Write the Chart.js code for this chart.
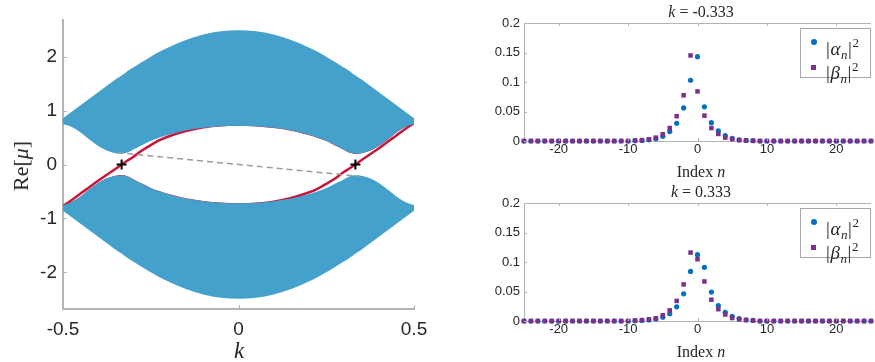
<!DOCTYPE html>
<html>
<head>
<meta charset="utf-8">
<script src="https://cdn.jsdelivr.net/npm/chart.js@4.4.1/dist/chart.umd.min.js"></script>
<style>
  html, body { margin: 0; padding: 0; background: #fff; }
  body { width: 875px; height: 362px; position: relative; overflow: hidden; }
  canvas { position: absolute; }
  .lbl { position: absolute; color: #262626; white-space: nowrap; transform: translate(-50%, -50%);
         font-family: "Liberation Serif", "Times New Roman", serif; }
  .legend { position: absolute; left: 800px; width: 71px; height: 50px; border: 1px solid #a8a8a8;
            background: #fff; box-sizing: border-box; }
  .legend .mk { position: absolute; }
  .legend .txt { position: absolute; left: 25px; font-family: "Liberation Serif", "Times New Roman", serif;
                 font-size: 19px; color: #262626; white-space: nowrap; line-height: 19px; letter-spacing: 0.6px; }
  .legend sub, .legend sup { font-size: 13px; }
  .legend sub { vertical-align: -4px; }
  .legend sup { vertical-align: 8px; }
</style>
</head>
<body>
<canvas id="bands" width="440" height="362" style="left:0;top:0"></canvas>
<canvas id="profTop" width="395" height="180" style="left:480px;top:0"></canvas>
<canvas id="profBottom" width="395" height="182" style="left:480px;top:180px"></canvas>

<div class="lbl" style="left:21px;top:166px;font-size:22px;transform:translate(-50%,-50%) rotate(-90deg)">Re[<i>μ</i>]</div>
<div class="lbl" style="left:239px;top:351px;font-size:23px"><i>k</i></div>

<div class="lbl" style="left:701px;top:12px;font-size:16px"><i>k</i> = -0.333</div>
<div class="lbl" style="left:701px;top:172px;font-size:16px">Index <i>n</i></div>
<div class="lbl" style="left:701px;top:192px;font-size:16px"><i>k</i> = 0.333</div>
<div class="lbl" style="left:701px;top:352px;font-size:16px">Index <i>n</i></div>

<div class="legend" style="top:28px">
  <span class="mk" style="left:10px;top:10px;width:6px;height:6px;border-radius:3px;background:#0072BD"></span>
  <span class="txt" style="top:4px">|<i>α</i><sub><i>n</i></sub>|<sup>2</sup></span>
  <span class="mk" style="left:10px;top:36px;width:5px;height:5px;background:#7E2F8E"></span>
  <span class="txt" style="top:28px">|<i>β</i><sub><i>n</i></sub>|<sup>2</sup></span>
</div>
<div class="legend" style="top:208px">
  <span class="mk" style="left:10px;top:10px;width:6px;height:6px;border-radius:3px;background:#0072BD"></span>
  <span class="txt" style="top:4px">|<i>α</i><sub><i>n</i></sub>|<sup>2</sup></span>
  <span class="mk" style="left:10px;top:36px;width:5px;height:5px;background:#7E2F8E"></span>
  <span class="txt" style="top:28px">|<i>β</i><sub><i>n</i></sub>|<sup>2</sup></span>
</div>

<script>
// band structure (left panel)
const kValues = [-0.5, -0.475, -0.45, -0.425, -0.4, -0.375, -0.35, -0.333, -0.317, -0.3, -0.275, -0.25, -0.225, -0.2, -0.15, -0.1, -0.05, 0,
                 0.05, 0.1, 0.15, 0.2, 0.225, 0.25, 0.275, 0.3, 0.317, 0.333, 0.35, 0.375, 0.4, 0.425, 0.45, 0.475, 0.5];
const upperTop = [0.86, 0.98, 1.10, 1.22, 1.34, 1.46, 1.58, 1.65, 1.73, 1.80, 1.90, 2.00, 2.09, 2.17, 2.31, 2.41, 2.47, 2.49,
                  2.47, 2.41, 2.31, 2.17, 2.09, 2.00, 1.90, 1.80, 1.73, 1.65, 1.58, 1.46, 1.34, 1.22, 1.10, 0.98, 0.86];
const upperBottom = [0.77, 0.72, 0.62, 0.49, 0.37, 0.28, 0.23, 0.22, 0.24, 0.30, 0.38, 0.46, 0.52, 0.57, 0.65, 0.70, 0.73, 0.74,
                     0.73, 0.70, 0.65, 0.57, 0.52, 0.46, 0.38, 0.30, 0.24, 0.22, 0.23, 0.28, 0.37, 0.49, 0.62, 0.72, 0.77];
const lowerTop = [-0.77, -0.72, -0.62, -0.49, -0.37, -0.28, -0.23, -0.22, -0.24, -0.30, -0.38, -0.46, -0.52, -0.57, -0.65, -0.70, -0.73, -0.74,
                  -0.73, -0.70, -0.65, -0.57, -0.52, -0.46, -0.38, -0.30, -0.24, -0.22, -0.23, -0.28, -0.37, -0.49, -0.62, -0.72, -0.77];
const lowerBottom = [-0.86, -0.98, -1.10, -1.22, -1.34, -1.46, -1.58, -1.65, -1.73, -1.80, -1.90, -2.00, -2.09, -2.17, -2.31, -2.41, -2.47, -2.49,
                     -2.47, -2.41, -2.31, -2.17, -2.09, -2.00, -1.90, -1.80, -1.73, -1.65, -1.58, -1.46, -1.34, -1.22, -1.10, -0.98, -0.86];
const edgeA = [-0.77, -0.66, -0.54, -0.42, -0.30, -0.19, -0.08, 0, 0.07, 0.14, 0.26, 0.36, 0.45, 0.52, 0.62, 0.69, 0.73, 0.74,
               0.73, 0.70, 0.65, 0.57, 0.52, 0.46, 0.38, 0.30, 0.24, 0.22, 0.23, 0.28, 0.37, 0.49, 0.62, 0.72, 0.77];
const edgeB = [-0.77, -0.72, -0.62, -0.49, -0.37, -0.28, -0.23, -0.22, -0.24, -0.30, -0.38, -0.46, -0.52, -0.57, -0.65, -0.70, -0.73, -0.74,
               -0.73, -0.69, -0.62, -0.52, -0.45, -0.36, -0.26, -0.14, -0.07, 0, 0.08, 0.19, 0.30, 0.42, 0.54, 0.66, 0.77];
const dashK = [-0.345, 0.345];
const dashMu = [0.22, -0.22];
const crossK = [-0.333, 0.333];
const crossMu = [0, 0];
const kTicks = [-0.5, 0, 0.5];
const muTicks = [-2, -1, 0, 1, 2];

// mode profiles (right panels)
const nIndex = [-25, -24, -23, -22, -21, -20, -19, -18, -17, -16, -15, -14, -13, -12, -11, -10, -9, -8, -7, -6, -5, -4, -3, -2, -1,
                0, 1, 2, 3, 4, 5, 6, 7, 8, 9, 10, 11, 12, 13, 14, 15, 16, 17, 18, 19, 20, 21, 22, 23, 24, 25];
const alphaTop = [0, 0, 0, 0, 0, 0, 0, 0, 0, 0, 0, 0, 0, 0, 0, 0,
                  0.0005, 0.001, 0.002, 0.004, 0.008, 0.016, 0.030, 0.056, 0.103, 0.143,
                  0.058, 0.031, 0.017, 0.009, 0.0045, 0.002, 0.001, 0.0005,
                  0, 0, 0, 0, 0, 0, 0, 0, 0, 0, 0, 0, 0, 0, 0, 0, 0];
const betaTop = [0, 0, 0, 0, 0, 0, 0, 0, 0, 0, 0, 0, 0, 0, 0, 0,
                 0.0008, 0.0015, 0.003, 0.0057, 0.0114, 0.022, 0.042, 0.0775, 0.145, 0.084,
                 0.043, 0.022, 0.012, 0.0057, 0.003, 0.0015, 0.0008, 0.0004,
                 0, 0, 0, 0, 0, 0, 0, 0, 0, 0, 0, 0, 0, 0, 0, 0, 0];
const alphaBottom = [0, 0, 0, 0, 0, 0, 0, 0, 0, 0, 0, 0, 0, 0, 0, 0,
                     0.0005, 0.001, 0.0018, 0.0035, 0.0065, 0.0125, 0.024, 0.046, 0.084, 0.1125,
                     0.091, 0.049, 0.026, 0.0147, 0.008, 0.004, 0.002, 0.001,
                     0, 0, 0, 0, 0, 0, 0, 0, 0, 0, 0, 0, 0, 0, 0, 0, 0];
const betaBottom = [0, 0, 0, 0, 0, 0, 0, 0, 0, 0, 0, 0, 0, 0, 0, 0,
                    0.0008, 0.0015, 0.0028, 0.0046, 0.0097, 0.018, 0.034, 0.062, 0.116, 0.1046,
                    0.067, 0.036, 0.020, 0.011, 0.005, 0.003, 0.0016, 0.0008,
                    0, 0, 0, 0, 0, 0, 0, 0, 0, 0, 0, 0, 0, 0, 0, 0, 0];
const nTicks = [-20, -10, 0, 10, 20];
const probTicks = [0, 0.05, 0.1, 0.15, 0.2];

const bandBlue = '#43A1CB';
const edgeRed = '#C8153A';
const sansFont = '"Liberation Sans", Arial, Helvetica, sans-serif';
const textColor = '#262626';

const pts = (xs, ys) => xs.map((x, i) => ({ x: x, y: ys[i] }));
const setTicks = list => scale => { scale.ticks = list.map(v => ({ value: v })); };

// matlab style ticks pointing into the axes
const innerTicks = {
  id: 'innerTicks',
  afterDraw(chart, args, opts) {
    const { ctx, chartArea: a, scales: { x, y } } = chart;
    ctx.save();
    ctx.strokeStyle = opts.color;
    ctx.lineWidth = 1;
    ctx.beginPath();
    x.ticks.forEach(t => {
      const px = Math.round(x.getPixelForValue(t.value)) + 0.5;
      ctx.moveTo(px, a.bottom); ctx.lineTo(px, a.bottom - opts.len);
      if (opts.box) { ctx.moveTo(px, a.top); ctx.lineTo(px, a.top + opts.len); }
    });
    y.ticks.forEach(t => {
      const py = Math.round(y.getPixelForValue(t.value)) + 0.5;
      ctx.moveTo(a.left, py); ctx.lineTo(a.left + opts.len, py);
    });
    if (opts.box) {
      ctx.moveTo(a.left, a.top + 0.5); ctx.lineTo(a.right, a.top + 0.5);
    }
    ctx.stroke();
    ctx.restore();
  }
};

function axisX(min, max, ticks, size, pad, height, lineW) {
  return {
    type: 'linear', min: min, max: max,
    afterBuildTicks: setTicks(ticks),
    ticks: { callback: v => String(v), font: { family: sansFont, size: size }, color: textColor, padding: pad, maxRotation: 0 },
    grid: { display: false, drawTicks: false },
    border: { display: true, color: '#b4b4b4', width: lineW },
    afterFit: s => { s.height = height; s.paddingLeft = 0; s.paddingRight = 0; }
  };
}
function axisY(min, max, ticks, size, pad, width, lineW) {
  return {
    type: 'linear', min: min, max: max,
    afterBuildTicks: setTicks(ticks),
    ticks: { callback: v => String(v), font: { family: sansFont, size: size }, color: textColor, padding: pad },
    grid: { display: false, drawTicks: false },
    border: { display: true, color: '#b4b4b4', width: lineW },
    afterFit: s => { s.width = width; s.paddingTop = 0; s.paddingBottom = 0; }
  };
}

// red edge curves sit under the bands, so only a thin sliver shows where they run along a band
new Chart(document.getElementById('bands'), {
  type: 'line',
  data: {
    datasets: [
      { data: pts(crossK, crossMu), showLine: false, pointStyle: 'cross', pointRadius: 5, borderColor: '#000', borderWidth: 2, order: 0 },
      { data: pts(dashK, dashMu), borderColor: '#9c9c9c', borderWidth: 1.5, borderDash: [6, 4], cubicInterpolationMode: 'default', order: 1 },
      { data: pts(kValues, upperTop), fill: '+1', backgroundColor: bandBlue, borderColor: 'transparent', borderWidth: 0, order: 2 },
      { data: pts(kValues, upperBottom), fill: false, borderColor: bandBlue, borderWidth: 2.2, order: 2 },
      { data: pts(kValues, lowerTop), fill: '+1', backgroundColor: bandBlue, borderColor: bandBlue, borderWidth: 2.2, order: 2 },
      { data: pts(kValues, lowerBottom), fill: false, borderColor: 'transparent', borderWidth: 0, order: 2 },
      { data: pts(kValues, edgeA), borderColor: edgeRed, borderWidth: 2.5, order: 3 },
      { data: pts(kValues, edgeB), borderColor: edgeRed, borderWidth: 2.5, order: 3 }
    ]
  },
  options: {
    responsive: false, animation: false, events: [],
    datasets: { line: { pointRadius: 0, cubicInterpolationMode: 'monotone' } },
    layout: { padding: { top: 20, right: 26, left: 0, bottom: 0 } },
    scales: {
      x: axisX(-0.5, 0.5, kTicks, 19, 9, 53, 2),
      y: axisY(-2.68, 2.68, muTicks, 19, 6, 63, 2)
    },
    plugins: { legend: { display: false }, tooltip: { enabled: false },
               innerTicks: { color: '#b4b4b4', len: 4, box: false } }
  },
  plugins: [innerTicks]
});

function profileChart(id, alpha, beta) {
  return new Chart(document.getElementById(id), {
    type: 'scatter',
    data: {
      datasets: [
        { data: pts(nIndex, beta), pointStyle: 'rect', pointRadius: 3.2, backgroundColor: '#7E2F8E', borderWidth: 0, clip: false },
        { data: pts(nIndex, alpha), pointStyle: 'circle', pointRadius: 2.6, backgroundColor: '#0072BD', borderWidth: 0, clip: false }
      ]
    },
    options: {
      responsive: false, animation: false, events: [],
      layout: { padding: { top: 23, right: 0, left: 0, bottom: 0 } },
      scales: {
        x: axisX(-25, 25, nTicks, 13, 1, id === 'profTop' ? 39 : 41, 1),
        y: axisY(0, 0.2, probTicks, 13, 4, 44, 1)
      },
      plugins: { legend: { display: false }, tooltip: { enabled: false },
                 innerTicks: { color: '#b4b4b4', len: 3, box: true } }
    },
    plugins: [innerTicks]
  });
}

profileChart('profTop', alphaTop, betaTop);
profileChart('profBottom', alphaBottom, betaBottom);
</script>
</body>
</html>
